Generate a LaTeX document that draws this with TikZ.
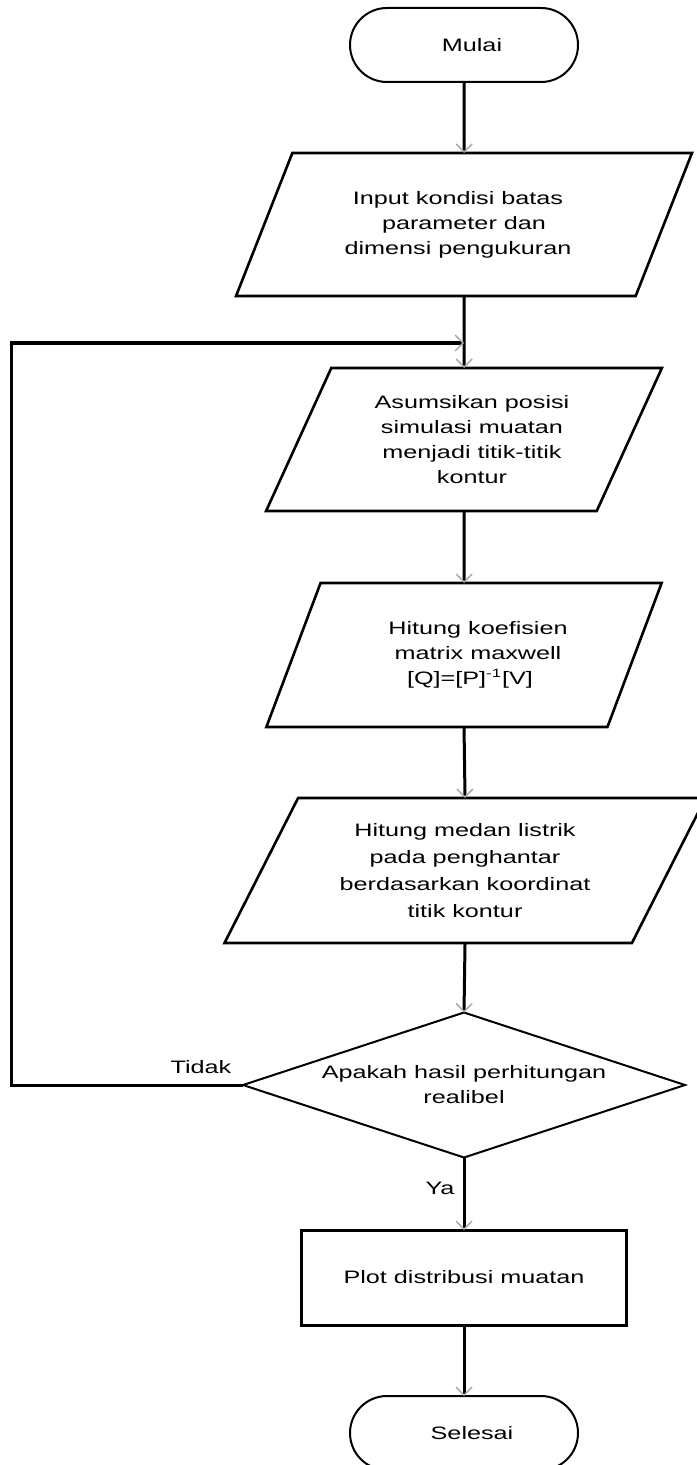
\documentclass[tikz,border=0pt]{standalone}
\usepackage{fontspec}
\setmainfont[FakeStretch=1.4]{Liberation Sans}
\usetikzlibrary{shapes.geometric,arrows.meta}
\begin{document}
\begin{tikzpicture}[x=0.5pt,y=-0.5pt,
  every node/.style={font=\fontsize{9pt}{12.5pt}\selectfont, align=center, inner sep=0pt, outer sep=0pt, text=black},
  term/.style={draw, line width=1pt, rounded corners=18.5pt, minimum width=114pt, minimum height=37pt},
  io/.style={draw, line width=1.3pt, trapezium, trapezium left angle=59.6, trapezium right angle=120.4, trapezium stretches=true, minimum height=71.5pt},
  proc/.style={draw, line width=1.5pt, minimum width=162.5pt, minimum height=47.5pt},
  dec/.style={draw, line width=1pt, diamond, minimum width=221pt, minimum height=72.5pt, shape aspect=3},
  conn/.style={line width=1.5pt, -{Straight Barb[length=4pt,width=8pt,line width=0.7pt,color=gray!70]}},
  lbl/.style={}
]
\useasboundingbox (0,0) rectangle (696,1465);

\node[term] (start) at (464,45) {\hspace*{8pt}Mulai};
\node[io, minimum width=228pt] (p1) at (464,224.5) {Input kondisi batas\hspace*{6pt}\\parameter dan\hspace*{6pt}\\dimensi pengukuran\hspace*{6pt}};
\node[io, minimum width=198pt] (p2) at (464,439.5) {\hspace*{8pt}Asumsikan posisi\\\hspace*{8pt}simulasi muatan\\\hspace*{8pt}menjadi titik-titik\\\hspace*{8pt}kontur};
\node[io, minimum width=198pt, minimum height=72pt] (p3) at (464,655) {\hspace*{14pt}Hitung koefisien\\\hspace*{14pt}matrix maxwell\\\hspace*{6pt}[Q]=[P]\textsuperscript{-1}[V]};
\node[io, minimum width=241pt, minimum height=72.5pt, font=\fontsize{9pt}{13.5pt}\selectfont] (p4) at (465,870.5) {Hitung medan listrik\\pada penghantar\\berdasarkan koordinat\\titik kontur};
\node[dec] (dia) at (464,1085) {Apakah hasil perhitungan\\realibel};
\node[proc] (plot) at (464,1277.5) {Plot distribusi muatan};
\node[term] (end) at (464,1433) {\hspace*{8pt}Selesai};

\node[lbl] (tidak) at (201,1067) {Tidak};
\node[lbl] (ya) at (440,1188) {Ya};

\coordinate (lc) at (11,343);
\coordinate (jn) at (464,343);

\draw[conn] (start) -- (p1);
\draw[conn] (p1.south) -- (p2.north);
\draw[conn] (p2.south) -- (p3.north);
\draw[conn] (p3.south) -- (p4.north);
\draw[conn] (p4.south) -- (dia.north);
\draw[conn] (dia.south) -- (plot.north);
\draw[conn] (plot) -- (end);
\draw[conn] (dia.west) -| (lc) -- (jn);
\end{tikzpicture}
\end{document}
